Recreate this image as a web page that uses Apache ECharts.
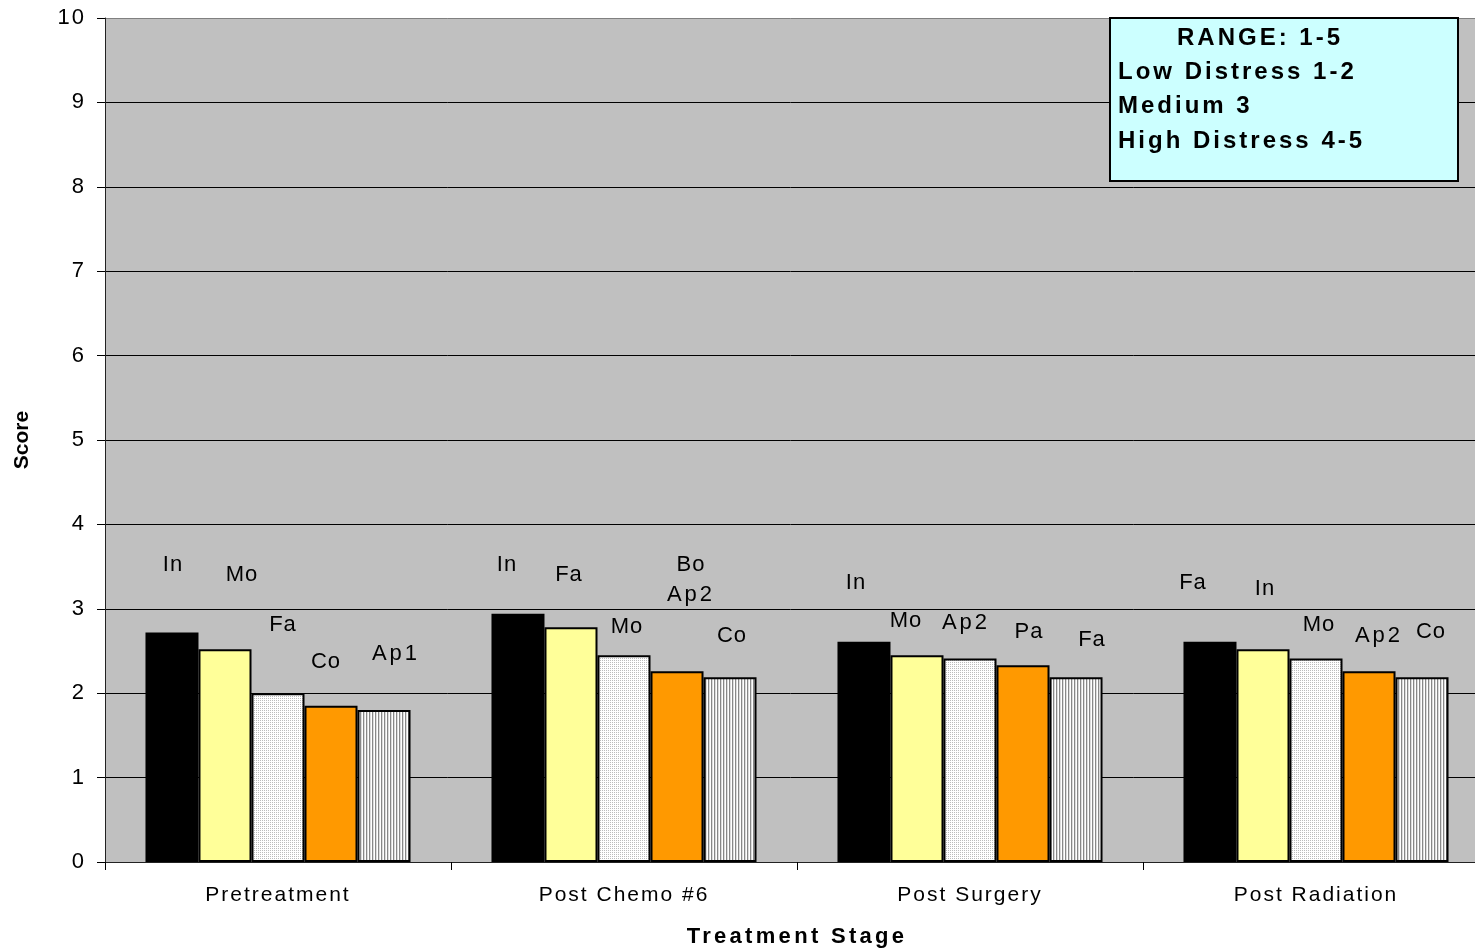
<!DOCTYPE html>
<html><head><meta charset="utf-8">
<script src="https://cdn.jsdelivr.net/npm/echarts@6/dist/echarts.min.js"></script>
<style>html,body{margin:0;padding:0;background:#fff}#c{width:1475px;height:950px}</style>
</head><body><div id="c"></div>
<script>
// ---------------- DATA ----------------
const categories = ['Pretreatment', 'Post Chemo #6', 'Post Surgery', 'Post Radiation'];
// bars are ranked within each stage (1 = highest score)
const rank1Values = [2.72, 2.94, 2.61, 2.61];
const rank2Values = [2.52, 2.78, 2.45, 2.52];
const rank3Values = [2.00, 2.45, 2.41, 2.41];
const rank4Values = [1.85, 2.26, 2.33, 2.26];
const rank5Values = [1.80, 2.19, 2.19, 2.19];
const rank1Labels = ['In', 'In', 'In', 'Fa'];
const rank2Labels = ['Mo', 'Fa', 'Mo', 'In'];
const rank3Labels = ['Fa', 'Mo', 'Ap2', 'Mo'];
const rank4Labels = ['Co', 'Bo\nAp2', 'Pa', 'Ap2'];
const rank5Labels = ['Ap1', 'Co', 'Fa', 'Co'];
// score level (in axis units) at which each symptom label sits
const rank1LabelLevels = [3.52, 3.52, 3.31, 3.31];
const rank2LabelLevels = [3.40, 3.40, 2.86, 3.23];
const rank3LabelLevels = [2.81, 2.78, 2.83, 2.81];
const rank4LabelLevels = [2.37, 3.34, 2.73, 2.68];
const rank5LabelLevels = [2.46, 2.68, 2.63, 2.73];
const yMin = 0, yMax = 10, yStep = 1;
const xAxisTitle = 'Treatment Stage';
const yAxisTitle = 'Score';
const noteTitle = 'RANGE: 1-5';
const noteLines = ['Low Distress 1-2', 'Medium 3', 'High Distress 4-5'];

// ---------------- STYLE ----------------
const FONT = '"Liberation Sans", Arial, sans-serif';
const values = [rank1Values, rank2Values, rank3Values, rank4Values, rank5Values];
const labels = [rank1Labels, rank2Labels, rank3Labels, rank4Labels, rank5Labels];
const levels = [rank1LabelLevels, rank2LabelLevels, rank3LabelLevels, rank4LabelLevels, rank5LabelLevels];
// small horizontal nudges (px) of the hand-placed labels
const nudges = [[1, -11, -8, -17], [17, -2, -11, 2], [5, 3, -4, 3], [-5, 14, 6, 10], [12, 2, 16, 9]];

function makePattern(w, h, draw) {
  const c = document.createElement('canvas'); c.width = w; c.height = h;
  const ctx = c.getContext('2d'); draw(ctx); return c;
}
const dotted = makePattern(2, 2, ctx => {
  ctx.fillStyle = '#ffffff'; ctx.fillRect(0, 0, 2, 2);
  ctx.fillStyle = '#bcbcbc'; ctx.fillRect(0, 0, 1, 1);
});
const striped = makePattern(3, 1, ctx => {
  ctx.fillStyle = '#ffffff'; ctx.fillRect(0, 0, 3, 1);
  ctx.fillStyle = '#888888'; ctx.fillRect(0, 0, 1, 1);
  ctx.fillStyle = '#dcdcdc'; ctx.fillRect(1, 0, 1, 1);
});
const fills = ['#000000', '#FFFF99', { image: dotted, repeat: 'repeat' }, '#FF9900', { image: striped, repeat: 'repeat' }];

// letter spacing emulation for the spaced-out text of the original
const SPACING = {};
categories.forEach(c => SPACING[c] = 2);
SPACING[xAxisTitle] = 3.3;
SPACING[noteTitle] = 3;
noteLines.forEach(l => SPACING[l] = 3);
['In', 'Mo', 'Fa', 'Co', 'Bo', 'Pa'].forEach(t => SPACING[t] = 1);
['Ap1', 'Ap2'].forEach(t => SPACING[t] = 3);
for (let v = yMin; v <= yMax; v += yStep) SPACING[String(v)] = 2;
(function () {
  const proto = CanvasRenderingContext2D.prototype;
  if (!('letterSpacing' in proto)) return;
  const orig = proto.fillText;
  proto.fillText = function (t, x, y, w) {
    const ls = SPACING[t];
    if (ls != null) {
      const prev = this.letterSpacing;
      this.letterSpacing = ls + 'px';
      if (w === undefined) orig.call(this, t, x, y); else orig.call(this, t, x, y, w);
      this.letterSpacing = prev;
    } else {
      if (w === undefined) orig.call(this, t, x, y); else orig.call(this, t, x, y, w);
    }
  };
})();

const series = values.map((vals, s) => ({
  type: 'bar',
  data: vals,
  barGap: '0%',
  barCategoryGap: '23.4%',
  itemStyle: { color: fills[s], borderColor: '#000', borderWidth: 2 },
  emphasis: { disabled: true },
  markPoint: {
    symbol: 'circle',
    symbolSize: 1,
    itemStyle: { color: 'rgba(0,0,0,0)' },
    silent: true,
    label: {
      show: true, position: 'inside', formatter: '{b}',
      color: '#000', fontFamily: FONT, fontSize: 22, lineHeight: 30
    },
    data: categories.map((c, i) => ({
      name: labels[s][i],
      coord: [i, levels[s][i]],
      label: { offset: [nudges[s][i], 0] }
    }))
  }
}));

const splitColors = [];
for (let v = yMin; v <= yMax; v += yStep) splitColors.push(v === yMax ? '#808080' : '#000000');

const graphic = [
  { type: 'rect', shape: { x: 1110, y: 18, width: 348, height: 163 },
    style: { fill: '#CCFFFF', stroke: '#000', lineWidth: 2 }, z: 100 },
  { type: 'text', x: 1260, y: 38, z: 101,
    style: { text: noteTitle, fill: '#000', font: 'bold 24px ' + FONT, align: 'center', verticalAlign: 'middle' } }
].concat(noteLines.map((t, i) => ({
  type: 'text', x: 1118, y: 72 + i * 34.5, z: 101,
  style: { text: t, fill: '#000', font: 'bold 24px ' + FONT, align: 'left', verticalAlign: 'middle' }
})));

const chart = echarts.init(document.getElementById('c'), null, { renderer: 'canvas' });
chart.setOption({
  animation: false,
  backgroundColor: '#ffffff',
  grid: { left: 105, right: -14, top: 18, bottom: 88, outerBoundsMode: 'none', containLabel: false,
          show: true, backgroundColor: '#C0C0C0', borderWidth: 0 },
  xAxis: {
    type: 'category', data: categories,
    axisLine: { show: true, lineStyle: { color: '#222', width: 1 } },
    axisTick: { show: true, length: 8, interval: 0, lineStyle: { color: '#000' } },
    axisLabel: { margin: 23, color: '#000', fontFamily: FONT, fontSize: 21, interval: 0 },
    name: xAxisTitle, nameLocation: 'middle', nameGap: 64,
    nameTextStyle: { color: '#000', fontFamily: FONT, fontSize: 22, fontWeight: 'bold' }
  },
  yAxis: {
    type: 'value', min: yMin, max: yMax, interval: yStep,
    axisLine: { show: true, lineStyle: { color: '#222', width: 1 } },
    axisTick: { show: true, length: 8, lineStyle: { color: '#000' } },
    axisLabel: { margin: 19, color: '#000', fontFamily: FONT, fontSize: 22 },
    splitLine: { show: true, lineStyle: { color: splitColors, width: 1 } },
    name: yAxisTitle, nameLocation: 'middle', nameGap: 72, nameRotate: 90,
    nameTextStyle: { color: '#000', fontFamily: FONT, fontSize: 21, fontWeight: 'bold' }
  },
  series: series,
  graphic: graphic
});
</script>
</body></html>
